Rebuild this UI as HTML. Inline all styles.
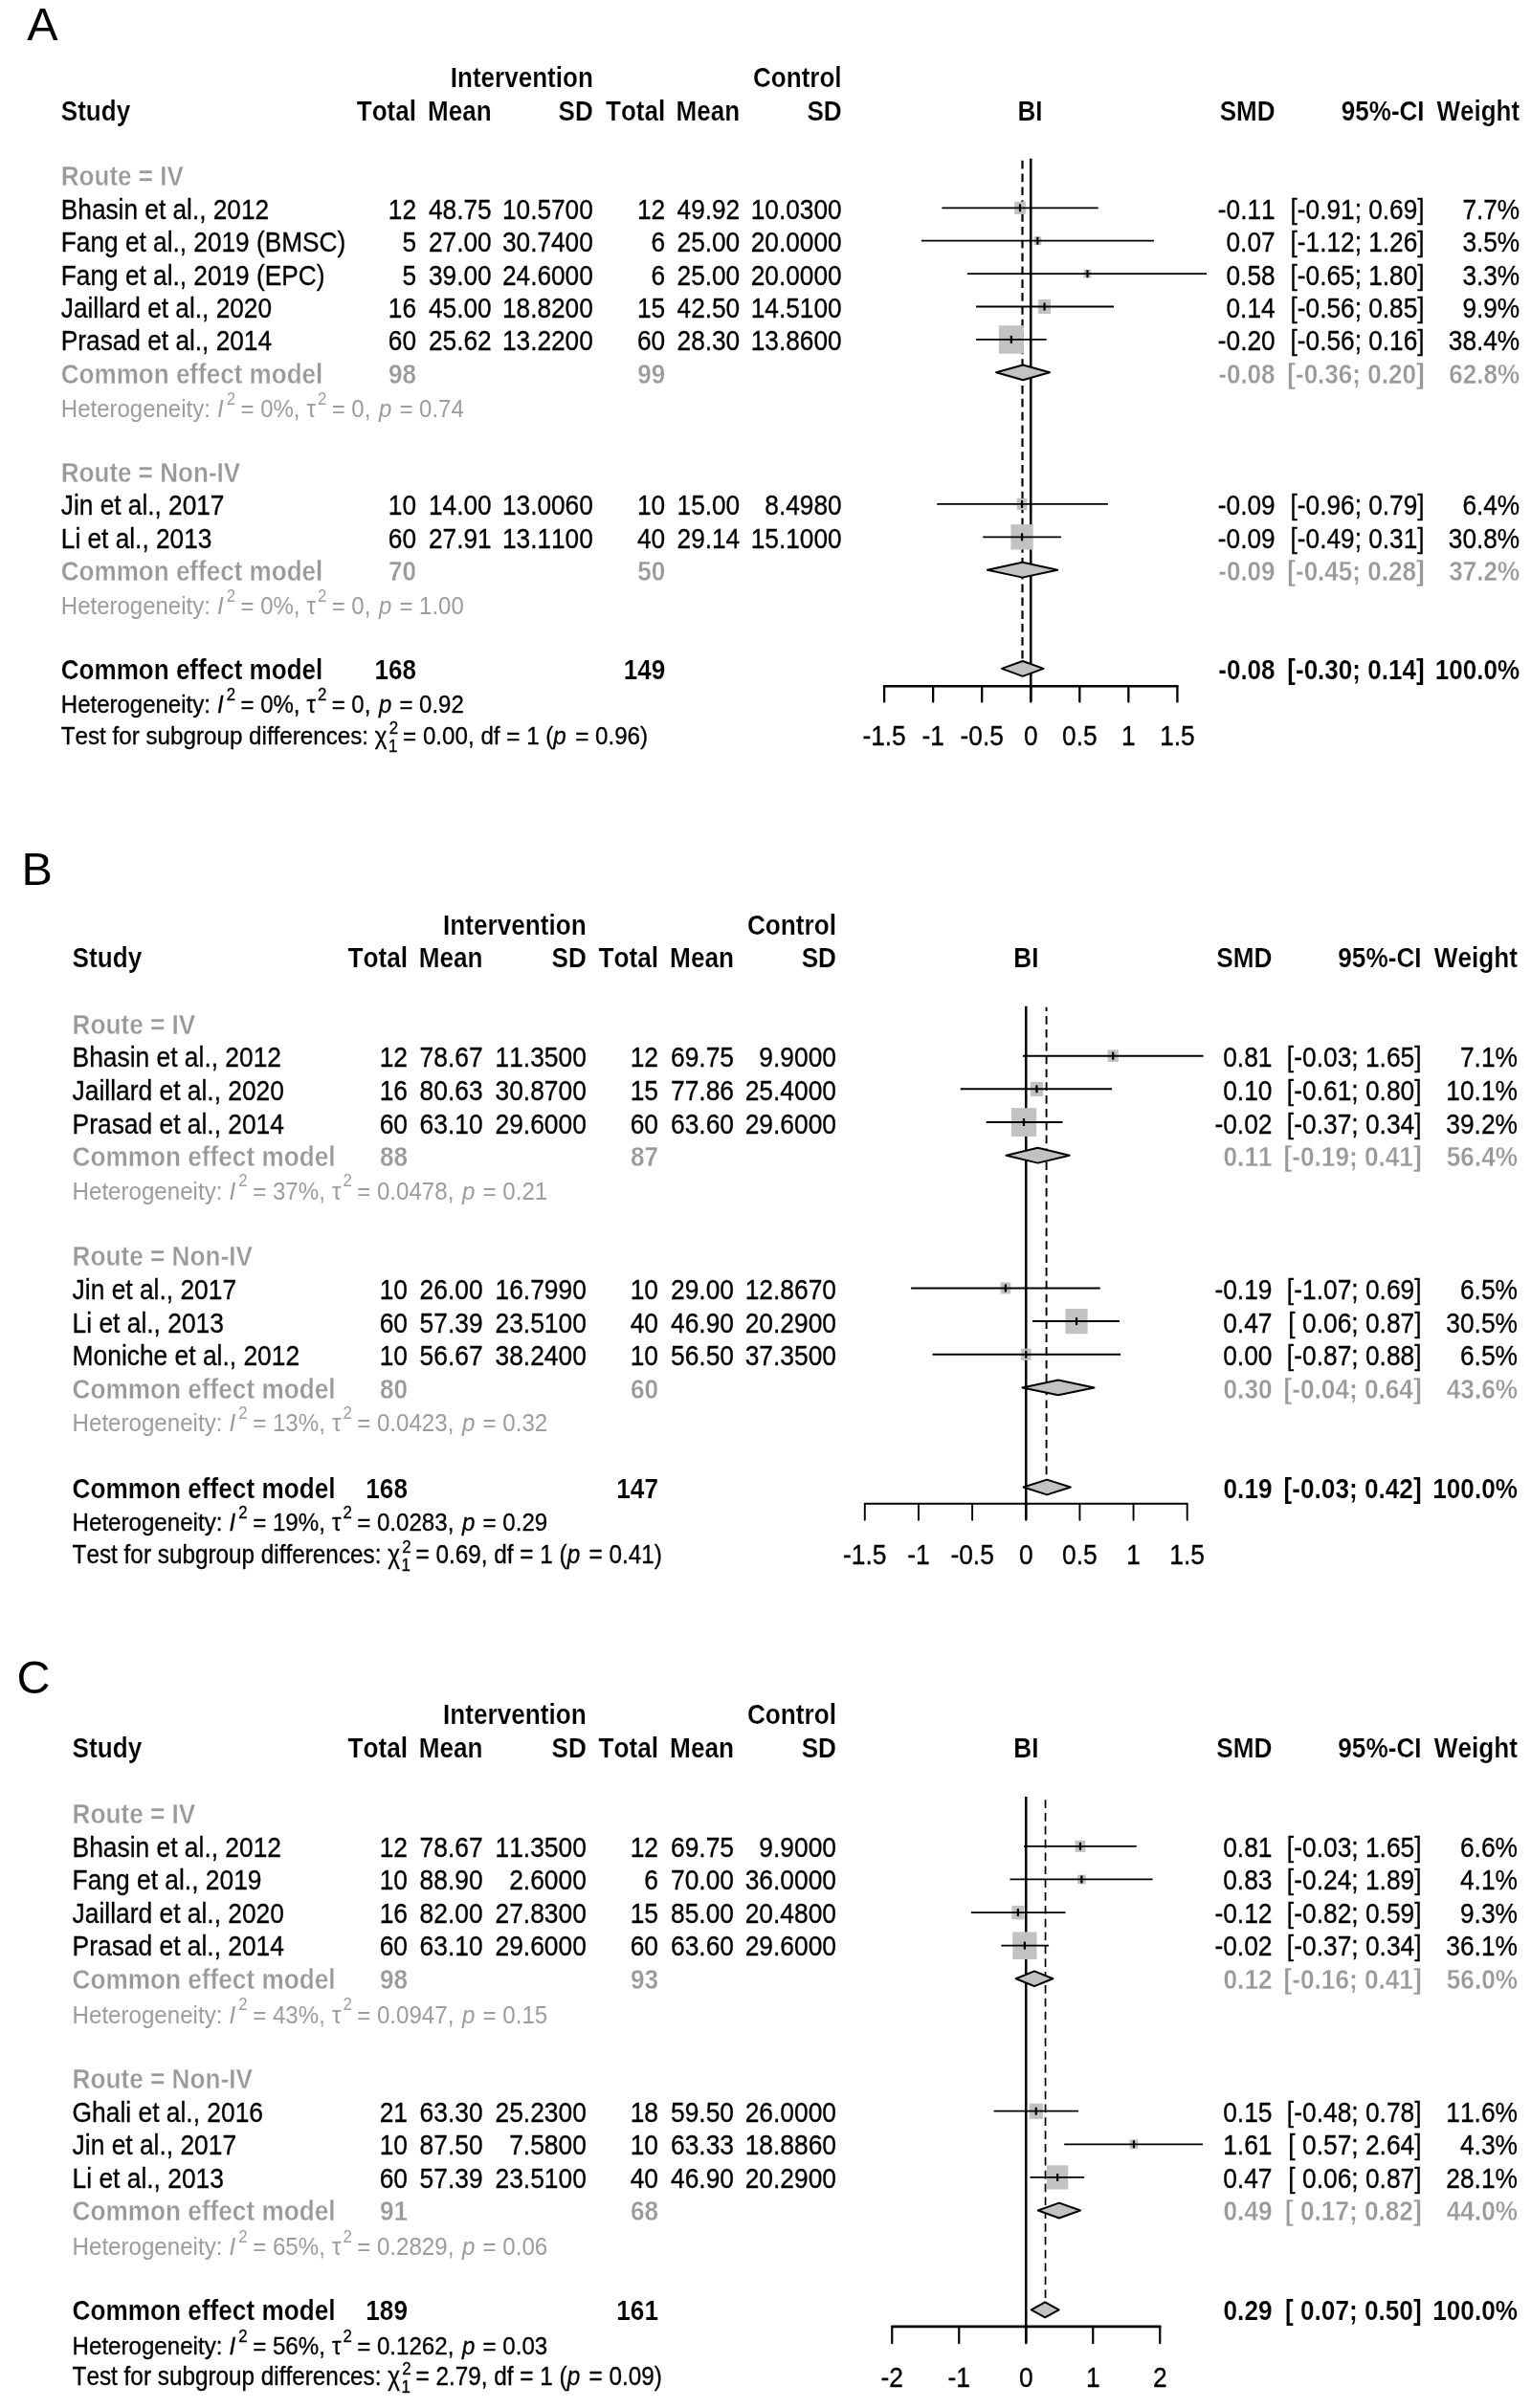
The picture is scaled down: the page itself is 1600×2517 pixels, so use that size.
<!DOCTYPE html>
<html><head><meta charset="utf-8"><title>Forest plots</title>
<style>
html,body{margin:0;padding:0;background:#fff;}
svg{display:block;font-family:"Liberation Sans", sans-serif;font-kerning:none;font-variant-ligatures:none;font-feature-settings:'kern' 0,'liga' 0;will-change:transform;}
text{white-space:pre;}
</style></head><body>
<svg width="1600" height="2517" viewBox="0 0 1600 2517">
<rect width="1600" height="2517" fill="#fff"/>
<text transform="matrix(1 0 0 1.0 28.30 42.00)" text-anchor="start" fill="#000" style="font-size:48.5px;">A</text>
<text transform="matrix(1 0 0 1.1 619.80 91.22)" text-anchor="end" fill="#000" stroke="#fff" stroke-width="0.15" style="font-size:26.05px;font-weight:bold;">Intervention</text>
<text transform="matrix(1 0 0 1.1 879.60 91.22)" text-anchor="end" fill="#000" stroke="#fff" stroke-width="0.15" style="font-size:26.05px;font-weight:bold;">Control</text>
<text transform="matrix(1 0 0 1.1 63.80 125.62)" text-anchor="start" fill="#000" stroke="#fff" stroke-width="0.15" style="font-size:26.05px;font-weight:bold;">Study</text>
<text transform="matrix(1 0 0 1.1 435.00 125.62)" text-anchor="end" fill="#000" stroke="#fff" stroke-width="0.15" style="font-size:26.05px;font-weight:bold;">Total</text>
<text transform="matrix(1 0 0 1.1 695.20 125.62)" text-anchor="end" fill="#000" stroke="#fff" stroke-width="0.15" style="font-size:26.05px;font-weight:bold;">Total</text>
<text transform="matrix(1 0 0 1.1 513.60 125.62)" text-anchor="end" fill="#000" stroke="#fff" stroke-width="0.15" style="font-size:26.05px;font-weight:bold;">Mean</text>
<text transform="matrix(1 0 0 1.1 773.20 125.62)" text-anchor="end" fill="#000" stroke="#fff" stroke-width="0.15" style="font-size:26.05px;font-weight:bold;">Mean</text>
<text transform="matrix(1 0 0 1.1 619.80 125.62)" text-anchor="end" fill="#000" stroke="#fff" stroke-width="0.15" style="font-size:26.05px;font-weight:bold;">SD</text>
<text transform="matrix(1 0 0 1.1 879.60 125.62)" text-anchor="end" fill="#000" stroke="#fff" stroke-width="0.15" style="font-size:26.05px;font-weight:bold;">SD</text>
<text transform="matrix(1 0 0 1.1 1076.40 125.62)" text-anchor="middle" fill="#000" stroke="#fff" stroke-width="0.15" style="font-size:26.05px;font-weight:bold;">BI</text>
<text transform="matrix(1 0 0 1.1 1332.60 125.62)" text-anchor="end" fill="#000" stroke="#fff" stroke-width="0.15" style="font-size:26.05px;font-weight:bold;">SMD</text>
<text transform="matrix(1 0 0 1.1 1488.60 125.62)" text-anchor="end" fill="#000" stroke="#fff" stroke-width="0.15" style="font-size:26.05px;font-weight:bold;">95%-CI</text>
<text transform="matrix(1 0 0 1.1 1588.20 125.62)" text-anchor="end" fill="#000" stroke="#fff" stroke-width="0.15" style="font-size:26.05px;font-weight:bold;">Weight</text>
<text transform="matrix(1 0 0 1.1 924.10 778.90)" text-anchor="middle" fill="#000" stroke="#000" stroke-width="0.3" style="font-size:26.25px;">-1.5</text>
<text transform="matrix(1 0 0 1.1 975.15 778.90)" text-anchor="middle" fill="#000" stroke="#000" stroke-width="0.3" style="font-size:26.25px;">-1</text>
<text transform="matrix(1 0 0 1.1 1026.20 778.90)" text-anchor="middle" fill="#000" stroke="#000" stroke-width="0.3" style="font-size:26.25px;">-0.5</text>
<text transform="matrix(1 0 0 1.1 1077.25 778.90)" text-anchor="middle" fill="#000" stroke="#000" stroke-width="0.3" style="font-size:26.25px;">0</text>
<text transform="matrix(1 0 0 1.1 1128.30 778.90)" text-anchor="middle" fill="#000" stroke="#000" stroke-width="0.3" style="font-size:26.25px;">0.5</text>
<text transform="matrix(1 0 0 1.1 1179.35 778.90)" text-anchor="middle" fill="#000" stroke="#000" stroke-width="0.3" style="font-size:26.25px;">1</text>
<text transform="matrix(1 0 0 1.1 1230.40 778.90)" text-anchor="middle" fill="#000" stroke="#000" stroke-width="0.3" style="font-size:26.25px;">1.5</text>
<line x1="1068.50" y1="166.72" x2="1068.50" y2="698.92" stroke="#000" stroke-width="2.2" stroke-dasharray="8.7 5.14" stroke-dashoffset="12.84"/>
<line x1="1077.25" y1="165.72" x2="1077.25" y2="733.60" stroke="#000" stroke-width="2.55"/>
<rect x="1060.19" y="210.73" width="11.65" height="13.18" fill="#c2c2c2"/>
<rect x="1080.47" y="247.28" width="7.86" height="8.89" fill="#c2c2c2"/>
<rect x="1132.65" y="281.81" width="7.63" height="8.63" fill="#c2c2c2"/>
<rect x="1084.94" y="313.05" width="13.21" height="14.95" fill="#c2c2c2"/>
<rect x="1043.82" y="340.20" width="26.03" height="29.43" fill="#c2c2c2"/>
<rect x="1062.75" y="520.91" width="10.63" height="12.02" fill="#c2c2c2"/>
<rect x="1056.41" y="548.14" width="23.31" height="26.36" fill="#c2c2c2"/>
<line x1="984.34" y1="217.32" x2="1147.70" y2="217.32" stroke="#000" stroke-width="1.8"/>
<line x1="1066.02" y1="213.32" x2="1066.02" y2="221.32" stroke="#000" stroke-width="2.2"/>
<line x1="962.90" y1="251.72" x2="1205.90" y2="251.72" stroke="#000" stroke-width="1.8"/>
<line x1="1084.40" y1="247.72" x2="1084.40" y2="255.72" stroke="#000" stroke-width="2.2"/>
<line x1="1010.88" y1="286.12" x2="1261.03" y2="286.12" stroke="#000" stroke-width="1.8"/>
<line x1="1136.47" y1="282.12" x2="1136.47" y2="290.12" stroke="#000" stroke-width="2.2"/>
<line x1="1020.07" y1="320.52" x2="1164.04" y2="320.52" stroke="#000" stroke-width="1.8"/>
<line x1="1091.54" y1="316.52" x2="1091.54" y2="324.52" stroke="#000" stroke-width="2.2"/>
<line x1="1020.07" y1="354.92" x2="1093.59" y2="354.92" stroke="#000" stroke-width="1.8"/>
<line x1="1056.83" y1="350.92" x2="1056.83" y2="358.92" stroke="#000" stroke-width="2.2"/>
<polygon points="1041.09,389.32 1069.08,381.42 1097.07,389.32 1069.08,397.22" fill="#c2c2c2" stroke="#000" stroke-width="2.0" stroke-linejoin="round"/>
<line x1="979.23" y1="526.92" x2="1157.91" y2="526.92" stroke="#000" stroke-width="1.8"/>
<line x1="1068.06" y1="522.92" x2="1068.06" y2="530.92" stroke="#000" stroke-width="2.2"/>
<line x1="1027.22" y1="561.32" x2="1108.90" y2="561.32" stroke="#000" stroke-width="1.8"/>
<line x1="1068.06" y1="557.32" x2="1068.06" y2="565.32" stroke="#000" stroke-width="2.2"/>
<polygon points="1031.90,595.72 1068.57,587.82 1105.24,595.72 1068.57,603.62" fill="#c2c2c2" stroke="#000" stroke-width="2.0" stroke-linejoin="round"/>
<polygon points="1046.91,698.92 1068.78,691.02 1090.64,698.92 1068.78,706.82" fill="#c2c2c2" stroke="#000" stroke-width="2.0" stroke-linejoin="round"/>
<line x1="924.10" y1="717.30" x2="1230.40" y2="717.30" stroke="#000" stroke-width="2.5" stroke-linecap="round"/>
<line x1="924.10" y1="717.30" x2="924.10" y2="733.60" stroke="#000" stroke-width="2.3" stroke-linecap="round"/>
<line x1="975.15" y1="717.30" x2="975.15" y2="733.60" stroke="#000" stroke-width="2.3" stroke-linecap="round"/>
<line x1="1026.20" y1="717.30" x2="1026.20" y2="733.60" stroke="#000" stroke-width="2.3" stroke-linecap="round"/>
<line x1="1077.25" y1="717.30" x2="1077.25" y2="733.60" stroke="#000" stroke-width="2.3" stroke-linecap="round"/>
<line x1="1128.30" y1="717.30" x2="1128.30" y2="733.60" stroke="#000" stroke-width="2.3" stroke-linecap="round"/>
<line x1="1179.35" y1="717.30" x2="1179.35" y2="733.60" stroke="#000" stroke-width="2.3" stroke-linecap="round"/>
<line x1="1230.40" y1="717.30" x2="1230.40" y2="733.60" stroke="#000" stroke-width="2.3" stroke-linecap="round"/>
<text transform="matrix(1 0 0 1.1 63.80 194.42)" text-anchor="start" fill="#999999" stroke="#fff" stroke-width="0.32" style="font-size:26.05px;font-weight:bold;">Route = IV</text>
<text transform="matrix(1 0 0 1.1 63.80 228.82)" text-anchor="start" fill="#000" stroke="#000" stroke-width="0.3" style="font-size:26.25px;">Bhasin et al., 2012</text>
<text transform="matrix(1 0 0 1.1 435.00 228.82)" text-anchor="end" fill="#000" stroke="#000" stroke-width="0.3" style="font-size:26.25px;">12</text>
<text transform="matrix(1 0 0 1.1 513.60 228.82)" text-anchor="end" fill="#000" stroke="#000" stroke-width="0.3" style="font-size:26.25px;">48.75</text>
<text transform="matrix(1 0 0 1.1 619.80 228.82)" text-anchor="end" fill="#000" stroke="#000" stroke-width="0.3" style="font-size:26.25px;">10.5700</text>
<text transform="matrix(1 0 0 1.1 695.20 228.82)" text-anchor="end" fill="#000" stroke="#000" stroke-width="0.3" style="font-size:26.25px;">12</text>
<text transform="matrix(1 0 0 1.1 773.20 228.82)" text-anchor="end" fill="#000" stroke="#000" stroke-width="0.3" style="font-size:26.25px;">49.92</text>
<text transform="matrix(1 0 0 1.1 879.60 228.82)" text-anchor="end" fill="#000" stroke="#000" stroke-width="0.3" style="font-size:26.25px;">10.0300</text>
<text transform="matrix(1 0 0 1.1 1332.60 228.82)" text-anchor="end" fill="#000" stroke="#000" stroke-width="0.3" style="font-size:26.25px;">-0.11</text>
<text transform="matrix(1 0 0 1.1 1488.60 228.82)" text-anchor="end" fill="#000" stroke="#000" stroke-width="0.3" style="font-size:26.25px;">[-0.91; 0.69]</text>
<text transform="matrix(1 0 0 1.1 1588.20 228.82)" text-anchor="end" fill="#000" stroke="#000" stroke-width="0.3" style="font-size:26.25px;">7.7%</text>
<text transform="matrix(1 0 0 1.1 63.80 263.22)" text-anchor="start" fill="#000" stroke="#000" stroke-width="0.3" style="font-size:26.25px;">Fang et al., 2019 (BMSC)</text>
<text transform="matrix(1 0 0 1.1 435.00 263.22)" text-anchor="end" fill="#000" stroke="#000" stroke-width="0.3" style="font-size:26.25px;">5</text>
<text transform="matrix(1 0 0 1.1 513.60 263.22)" text-anchor="end" fill="#000" stroke="#000" stroke-width="0.3" style="font-size:26.25px;">27.00</text>
<text transform="matrix(1 0 0 1.1 619.80 263.22)" text-anchor="end" fill="#000" stroke="#000" stroke-width="0.3" style="font-size:26.25px;">30.7400</text>
<text transform="matrix(1 0 0 1.1 695.20 263.22)" text-anchor="end" fill="#000" stroke="#000" stroke-width="0.3" style="font-size:26.25px;">6</text>
<text transform="matrix(1 0 0 1.1 773.20 263.22)" text-anchor="end" fill="#000" stroke="#000" stroke-width="0.3" style="font-size:26.25px;">25.00</text>
<text transform="matrix(1 0 0 1.1 879.60 263.22)" text-anchor="end" fill="#000" stroke="#000" stroke-width="0.3" style="font-size:26.25px;">20.0000</text>
<text transform="matrix(1 0 0 1.1 1332.60 263.22)" text-anchor="end" fill="#000" stroke="#000" stroke-width="0.3" style="font-size:26.25px;">0.07</text>
<text transform="matrix(1 0 0 1.1 1488.60 263.22)" text-anchor="end" fill="#000" stroke="#000" stroke-width="0.3" style="font-size:26.25px;">[-1.12; 1.26]</text>
<text transform="matrix(1 0 0 1.1 1588.20 263.22)" text-anchor="end" fill="#000" stroke="#000" stroke-width="0.3" style="font-size:26.25px;">3.5%</text>
<text transform="matrix(1 0 0 1.1 63.80 297.62)" text-anchor="start" fill="#000" stroke="#000" stroke-width="0.3" style="font-size:26.25px;">Fang et al., 2019 (EPC)</text>
<text transform="matrix(1 0 0 1.1 435.00 297.62)" text-anchor="end" fill="#000" stroke="#000" stroke-width="0.3" style="font-size:26.25px;">5</text>
<text transform="matrix(1 0 0 1.1 513.60 297.62)" text-anchor="end" fill="#000" stroke="#000" stroke-width="0.3" style="font-size:26.25px;">39.00</text>
<text transform="matrix(1 0 0 1.1 619.80 297.62)" text-anchor="end" fill="#000" stroke="#000" stroke-width="0.3" style="font-size:26.25px;">24.6000</text>
<text transform="matrix(1 0 0 1.1 695.20 297.62)" text-anchor="end" fill="#000" stroke="#000" stroke-width="0.3" style="font-size:26.25px;">6</text>
<text transform="matrix(1 0 0 1.1 773.20 297.62)" text-anchor="end" fill="#000" stroke="#000" stroke-width="0.3" style="font-size:26.25px;">25.00</text>
<text transform="matrix(1 0 0 1.1 879.60 297.62)" text-anchor="end" fill="#000" stroke="#000" stroke-width="0.3" style="font-size:26.25px;">20.0000</text>
<text transform="matrix(1 0 0 1.1 1332.60 297.62)" text-anchor="end" fill="#000" stroke="#000" stroke-width="0.3" style="font-size:26.25px;">0.58</text>
<text transform="matrix(1 0 0 1.1 1488.60 297.62)" text-anchor="end" fill="#000" stroke="#000" stroke-width="0.3" style="font-size:26.25px;">[-0.65; 1.80]</text>
<text transform="matrix(1 0 0 1.1 1588.20 297.62)" text-anchor="end" fill="#000" stroke="#000" stroke-width="0.3" style="font-size:26.25px;">3.3%</text>
<text transform="matrix(1 0 0 1.1 63.80 332.02)" text-anchor="start" fill="#000" stroke="#000" stroke-width="0.3" style="font-size:26.25px;">Jaillard et al., 2020</text>
<text transform="matrix(1 0 0 1.1 435.00 332.02)" text-anchor="end" fill="#000" stroke="#000" stroke-width="0.3" style="font-size:26.25px;">16</text>
<text transform="matrix(1 0 0 1.1 513.60 332.02)" text-anchor="end" fill="#000" stroke="#000" stroke-width="0.3" style="font-size:26.25px;">45.00</text>
<text transform="matrix(1 0 0 1.1 619.80 332.02)" text-anchor="end" fill="#000" stroke="#000" stroke-width="0.3" style="font-size:26.25px;">18.8200</text>
<text transform="matrix(1 0 0 1.1 695.20 332.02)" text-anchor="end" fill="#000" stroke="#000" stroke-width="0.3" style="font-size:26.25px;">15</text>
<text transform="matrix(1 0 0 1.1 773.20 332.02)" text-anchor="end" fill="#000" stroke="#000" stroke-width="0.3" style="font-size:26.25px;">42.50</text>
<text transform="matrix(1 0 0 1.1 879.60 332.02)" text-anchor="end" fill="#000" stroke="#000" stroke-width="0.3" style="font-size:26.25px;">14.5100</text>
<text transform="matrix(1 0 0 1.1 1332.60 332.02)" text-anchor="end" fill="#000" stroke="#000" stroke-width="0.3" style="font-size:26.25px;">0.14</text>
<text transform="matrix(1 0 0 1.1 1488.60 332.02)" text-anchor="end" fill="#000" stroke="#000" stroke-width="0.3" style="font-size:26.25px;">[-0.56; 0.85]</text>
<text transform="matrix(1 0 0 1.1 1588.20 332.02)" text-anchor="end" fill="#000" stroke="#000" stroke-width="0.3" style="font-size:26.25px;">9.9%</text>
<text transform="matrix(1 0 0 1.1 63.80 366.42)" text-anchor="start" fill="#000" stroke="#000" stroke-width="0.3" style="font-size:26.25px;">Prasad et al., 2014</text>
<text transform="matrix(1 0 0 1.1 435.00 366.42)" text-anchor="end" fill="#000" stroke="#000" stroke-width="0.3" style="font-size:26.25px;">60</text>
<text transform="matrix(1 0 0 1.1 513.60 366.42)" text-anchor="end" fill="#000" stroke="#000" stroke-width="0.3" style="font-size:26.25px;">25.62</text>
<text transform="matrix(1 0 0 1.1 619.80 366.42)" text-anchor="end" fill="#000" stroke="#000" stroke-width="0.3" style="font-size:26.25px;">13.2200</text>
<text transform="matrix(1 0 0 1.1 695.20 366.42)" text-anchor="end" fill="#000" stroke="#000" stroke-width="0.3" style="font-size:26.25px;">60</text>
<text transform="matrix(1 0 0 1.1 773.20 366.42)" text-anchor="end" fill="#000" stroke="#000" stroke-width="0.3" style="font-size:26.25px;">28.30</text>
<text transform="matrix(1 0 0 1.1 879.60 366.42)" text-anchor="end" fill="#000" stroke="#000" stroke-width="0.3" style="font-size:26.25px;">13.8600</text>
<text transform="matrix(1 0 0 1.1 1332.60 366.42)" text-anchor="end" fill="#000" stroke="#000" stroke-width="0.3" style="font-size:26.25px;">-0.20</text>
<text transform="matrix(1 0 0 1.1 1488.60 366.42)" text-anchor="end" fill="#000" stroke="#000" stroke-width="0.3" style="font-size:26.25px;">[-0.56; 0.16]</text>
<text transform="matrix(1 0 0 1.1 1588.20 366.42)" text-anchor="end" fill="#000" stroke="#000" stroke-width="0.3" style="font-size:26.25px;">38.4%</text>
<text transform="matrix(1 0 0 1.1 63.80 400.82)" text-anchor="start" fill="#999999" stroke="#fff" stroke-width="0.32" style="font-size:26.05px;font-weight:bold;">Common effect model</text>
<text transform="matrix(1 0 0 1.1 435.00 400.82)" text-anchor="end" fill="#999999" stroke="#fff" stroke-width="0.32" style="font-size:26.05px;font-weight:bold;">98</text>
<text transform="matrix(1 0 0 1.1 695.20 400.82)" text-anchor="end" fill="#999999" stroke="#fff" stroke-width="0.32" style="font-size:26.05px;font-weight:bold;">99</text>
<text transform="matrix(1 0 0 1.1 1332.60 400.82)" text-anchor="end" fill="#999999" stroke="#fff" stroke-width="0.32" style="font-size:26.05px;font-weight:bold;">-0.08</text>
<text transform="matrix(1 0 0 1.1 1488.60 400.82)" text-anchor="end" fill="#999999" stroke="#fff" stroke-width="0.32" style="font-size:26.05px;font-weight:bold;">[-0.36; 0.20]</text>
<text transform="matrix(1 0 0 1.1 1588.20 400.82)" text-anchor="end" fill="#999999" stroke="#fff" stroke-width="0.32" style="font-size:26.05px;font-weight:bold;">62.8%</text>
<text transform="matrix(1 0 0 1.1 63.80 435.77)" text-anchor="start" fill="#9c9c9c" style="font-size:24.0px;">Heterogeneity: <tspan dx="0.5" style="font-style:italic">I</tspan><tspan dx="3.0" dy="-12.00" style="font-size:16.80px">2</tspan><tspan dx="-1.2" dy="12.00"> = 0%, </tspan><tspan dx="0.4">τ</tspan><tspan dx="2.0" dy="-12.00" style="font-size:16.80px">2</tspan><tspan dx="-1.4" dy="12.00"> = 0, </tspan><tspan dx="1.9" style="font-style:italic">p</tspan><tspan dx="1.5"> = 0.74</tspan></text>
<text transform="matrix(1 0 0 1.1 63.80 504.02)" text-anchor="start" fill="#999999" stroke="#fff" stroke-width="0.32" style="font-size:26.05px;font-weight:bold;">Route = Non-IV</text>
<text transform="matrix(1 0 0 1.1 63.80 538.42)" text-anchor="start" fill="#000" stroke="#000" stroke-width="0.3" style="font-size:26.25px;">Jin et al., 2017</text>
<text transform="matrix(1 0 0 1.1 435.00 538.42)" text-anchor="end" fill="#000" stroke="#000" stroke-width="0.3" style="font-size:26.25px;">10</text>
<text transform="matrix(1 0 0 1.1 513.60 538.42)" text-anchor="end" fill="#000" stroke="#000" stroke-width="0.3" style="font-size:26.25px;">14.00</text>
<text transform="matrix(1 0 0 1.1 619.80 538.42)" text-anchor="end" fill="#000" stroke="#000" stroke-width="0.3" style="font-size:26.25px;">13.0060</text>
<text transform="matrix(1 0 0 1.1 695.20 538.42)" text-anchor="end" fill="#000" stroke="#000" stroke-width="0.3" style="font-size:26.25px;">10</text>
<text transform="matrix(1 0 0 1.1 773.20 538.42)" text-anchor="end" fill="#000" stroke="#000" stroke-width="0.3" style="font-size:26.25px;">15.00</text>
<text transform="matrix(1 0 0 1.1 879.60 538.42)" text-anchor="end" fill="#000" stroke="#000" stroke-width="0.3" style="font-size:26.25px;">8.4980</text>
<text transform="matrix(1 0 0 1.1 1332.60 538.42)" text-anchor="end" fill="#000" stroke="#000" stroke-width="0.3" style="font-size:26.25px;">-0.09</text>
<text transform="matrix(1 0 0 1.1 1488.60 538.42)" text-anchor="end" fill="#000" stroke="#000" stroke-width="0.3" style="font-size:26.25px;">[-0.96; 0.79]</text>
<text transform="matrix(1 0 0 1.1 1588.20 538.42)" text-anchor="end" fill="#000" stroke="#000" stroke-width="0.3" style="font-size:26.25px;">6.4%</text>
<text transform="matrix(1 0 0 1.1 63.80 572.82)" text-anchor="start" fill="#000" stroke="#000" stroke-width="0.3" style="font-size:26.25px;">Li et al., 2013</text>
<text transform="matrix(1 0 0 1.1 435.00 572.82)" text-anchor="end" fill="#000" stroke="#000" stroke-width="0.3" style="font-size:26.25px;">60</text>
<text transform="matrix(1 0 0 1.1 513.60 572.82)" text-anchor="end" fill="#000" stroke="#000" stroke-width="0.3" style="font-size:26.25px;">27.91</text>
<text transform="matrix(1 0 0 1.1 619.80 572.82)" text-anchor="end" fill="#000" stroke="#000" stroke-width="0.3" style="font-size:26.25px;">13.1100</text>
<text transform="matrix(1 0 0 1.1 695.20 572.82)" text-anchor="end" fill="#000" stroke="#000" stroke-width="0.3" style="font-size:26.25px;">40</text>
<text transform="matrix(1 0 0 1.1 773.20 572.82)" text-anchor="end" fill="#000" stroke="#000" stroke-width="0.3" style="font-size:26.25px;">29.14</text>
<text transform="matrix(1 0 0 1.1 879.60 572.82)" text-anchor="end" fill="#000" stroke="#000" stroke-width="0.3" style="font-size:26.25px;">15.1000</text>
<text transform="matrix(1 0 0 1.1 1332.60 572.82)" text-anchor="end" fill="#000" stroke="#000" stroke-width="0.3" style="font-size:26.25px;">-0.09</text>
<text transform="matrix(1 0 0 1.1 1488.60 572.82)" text-anchor="end" fill="#000" stroke="#000" stroke-width="0.3" style="font-size:26.25px;">[-0.49; 0.31]</text>
<text transform="matrix(1 0 0 1.1 1588.20 572.82)" text-anchor="end" fill="#000" stroke="#000" stroke-width="0.3" style="font-size:26.25px;">30.8%</text>
<text transform="matrix(1 0 0 1.1 63.80 607.22)" text-anchor="start" fill="#999999" stroke="#fff" stroke-width="0.32" style="font-size:26.05px;font-weight:bold;">Common effect model</text>
<text transform="matrix(1 0 0 1.1 435.00 607.22)" text-anchor="end" fill="#999999" stroke="#fff" stroke-width="0.32" style="font-size:26.05px;font-weight:bold;">70</text>
<text transform="matrix(1 0 0 1.1 695.20 607.22)" text-anchor="end" fill="#999999" stroke="#fff" stroke-width="0.32" style="font-size:26.05px;font-weight:bold;">50</text>
<text transform="matrix(1 0 0 1.1 1332.60 607.22)" text-anchor="end" fill="#999999" stroke="#fff" stroke-width="0.32" style="font-size:26.05px;font-weight:bold;">-0.09</text>
<text transform="matrix(1 0 0 1.1 1488.60 607.22)" text-anchor="end" fill="#999999" stroke="#fff" stroke-width="0.32" style="font-size:26.05px;font-weight:bold;">[-0.45; 0.28]</text>
<text transform="matrix(1 0 0 1.1 1588.20 607.22)" text-anchor="end" fill="#999999" stroke="#fff" stroke-width="0.32" style="font-size:26.05px;font-weight:bold;">37.2%</text>
<text transform="matrix(1 0 0 1.1 63.80 642.17)" text-anchor="start" fill="#9c9c9c" style="font-size:24.0px;">Heterogeneity: <tspan dx="0.5" style="font-style:italic">I</tspan><tspan dx="3.0" dy="-12.00" style="font-size:16.80px">2</tspan><tspan dx="-1.2" dy="12.00"> = 0%, </tspan><tspan dx="0.4">τ</tspan><tspan dx="2.0" dy="-12.00" style="font-size:16.80px">2</tspan><tspan dx="-1.4" dy="12.00"> = 0, </tspan><tspan dx="1.9" style="font-style:italic">p</tspan><tspan dx="1.5"> = 1.00</tspan></text>
<text transform="matrix(1 0 0 1.1 63.80 710.42)" text-anchor="start" fill="#000" stroke="#fff" stroke-width="0.15" style="font-size:26.05px;font-weight:bold;">Common effect model</text>
<text transform="matrix(1 0 0 1.1 435.00 710.42)" text-anchor="end" fill="#000" stroke="#fff" stroke-width="0.15" style="font-size:26.05px;font-weight:bold;">168</text>
<text transform="matrix(1 0 0 1.1 695.20 710.42)" text-anchor="end" fill="#000" stroke="#fff" stroke-width="0.15" style="font-size:26.05px;font-weight:bold;">149</text>
<text transform="matrix(1 0 0 1.1 1332.60 710.42)" text-anchor="end" fill="#000" stroke="#fff" stroke-width="0.15" style="font-size:26.05px;font-weight:bold;">-0.08</text>
<text transform="matrix(1 0 0 1.1 1488.60 710.42)" text-anchor="end" fill="#000" stroke="#fff" stroke-width="0.15" style="font-size:26.05px;font-weight:bold;">[-0.30; 0.14]</text>
<text transform="matrix(1 0 0 1.1 1588.20 710.42)" text-anchor="end" fill="#000" stroke="#fff" stroke-width="0.15" style="font-size:26.05px;font-weight:bold;">100.0%</text>
<text transform="matrix(1 0 0 1.1 63.80 745.37)" text-anchor="start" fill="#000" stroke="#000" stroke-width="0.3" style="font-size:24.0px;">Heterogeneity: <tspan dx="0.5" style="font-style:italic">I</tspan><tspan dx="3.0" dy="-12.00" style="font-size:16.80px">2</tspan><tspan dx="-1.2" dy="12.00"> = 0%, </tspan><tspan dx="0.4">τ</tspan><tspan dx="2.0" dy="-12.00" style="font-size:16.80px">2</tspan><tspan dx="-1.4" dy="12.00"> = 0, </tspan><tspan dx="1.9" style="font-style:italic">p</tspan><tspan dx="1.5"> = 0.92</tspan></text>
<text transform="matrix(1 0 0 1.1 63.80 777.52)" text-anchor="start" fill="#000" stroke="#000" stroke-width="0.3" style="font-size:24.2px;">Test for subgroup differences: <tspan dx="0">χ</tspan><tspan dx="2.2" dy="-9.68" style="font-size:16.94px">2</tspan><tspan dx="-10.22" dy="16.94" style="font-size:16.94px">1</tspan><tspan dx="-1.0" dy="-7.26"> = 0.00, df = 1 (</tspan><tspan style="font-style:italic">p</tspan><tspan dx="2.6"> = 0.96)</tspan></text>
<text transform="matrix(1 0 0 1.0 22.40 925.00)" text-anchor="start" fill="#000" style="font-size:48.5px;">B</text>
<text transform="matrix(1 0 0 1.1 612.80 976.66)" text-anchor="end" fill="#000" stroke="#fff" stroke-width="0.15" style="font-size:26.18px;font-weight:bold;">Intervention</text>
<text transform="matrix(1 0 0 1.1 874.00 976.66)" text-anchor="end" fill="#000" stroke="#fff" stroke-width="0.15" style="font-size:26.18px;font-weight:bold;">Control</text>
<text transform="matrix(1 0 0 1.1 75.60 1011.34)" text-anchor="start" fill="#000" stroke="#fff" stroke-width="0.15" style="font-size:26.18px;font-weight:bold;">Study</text>
<text transform="matrix(1 0 0 1.1 426.00 1011.34)" text-anchor="end" fill="#000" stroke="#fff" stroke-width="0.15" style="font-size:26.18px;font-weight:bold;">Total</text>
<text transform="matrix(1 0 0 1.1 688.00 1011.34)" text-anchor="end" fill="#000" stroke="#fff" stroke-width="0.15" style="font-size:26.18px;font-weight:bold;">Total</text>
<text transform="matrix(1 0 0 1.1 504.60 1011.34)" text-anchor="end" fill="#000" stroke="#fff" stroke-width="0.15" style="font-size:26.18px;font-weight:bold;">Mean</text>
<text transform="matrix(1 0 0 1.1 767.00 1011.34)" text-anchor="end" fill="#000" stroke="#fff" stroke-width="0.15" style="font-size:26.18px;font-weight:bold;">Mean</text>
<text transform="matrix(1 0 0 1.1 612.80 1011.34)" text-anchor="end" fill="#000" stroke="#fff" stroke-width="0.15" style="font-size:26.18px;font-weight:bold;">SD</text>
<text transform="matrix(1 0 0 1.1 874.00 1011.34)" text-anchor="end" fill="#000" stroke="#fff" stroke-width="0.15" style="font-size:26.18px;font-weight:bold;">SD</text>
<text transform="matrix(1 0 0 1.1 1072.40 1011.34)" text-anchor="middle" fill="#000" stroke="#fff" stroke-width="0.15" style="font-size:26.18px;font-weight:bold;">BI</text>
<text transform="matrix(1 0 0 1.1 1329.50 1011.34)" text-anchor="end" fill="#000" stroke="#fff" stroke-width="0.15" style="font-size:26.18px;font-weight:bold;">SMD</text>
<text transform="matrix(1 0 0 1.1 1485.60 1011.34)" text-anchor="end" fill="#000" stroke="#fff" stroke-width="0.15" style="font-size:26.18px;font-weight:bold;">95%-CI</text>
<text transform="matrix(1 0 0 1.1 1586.00 1011.34)" text-anchor="end" fill="#000" stroke="#fff" stroke-width="0.15" style="font-size:26.18px;font-weight:bold;">Weight</text>
<text transform="matrix(1 0 0 1.1 903.80 1634.60)" text-anchor="middle" fill="#000" stroke="#000" stroke-width="0.3" style="font-size:26.381px;">-1.5</text>
<text transform="matrix(1 0 0 1.1 959.95 1634.60)" text-anchor="middle" fill="#000" stroke="#000" stroke-width="0.3" style="font-size:26.381px;">-1</text>
<text transform="matrix(1 0 0 1.1 1016.10 1634.60)" text-anchor="middle" fill="#000" stroke="#000" stroke-width="0.3" style="font-size:26.381px;">-0.5</text>
<text transform="matrix(1 0 0 1.1 1072.25 1634.60)" text-anchor="middle" fill="#000" stroke="#000" stroke-width="0.3" style="font-size:26.381px;">0</text>
<text transform="matrix(1 0 0 1.1 1128.40 1634.60)" text-anchor="middle" fill="#000" stroke="#000" stroke-width="0.3" style="font-size:26.381px;">0.5</text>
<text transform="matrix(1 0 0 1.1 1184.55 1634.60)" text-anchor="middle" fill="#000" stroke="#000" stroke-width="0.3" style="font-size:26.381px;">1</text>
<text transform="matrix(1 0 0 1.1 1240.70 1634.60)" text-anchor="middle" fill="#000" stroke="#000" stroke-width="0.3" style="font-size:26.381px;">1.5</text>
<line x1="1093.59" y1="1052.66" x2="1093.59" y2="1554.49" stroke="#000" stroke-width="1.9" stroke-dasharray="8.7 5.14" stroke-dashoffset="4.44"/>
<line x1="1072.25" y1="1051.66" x2="1072.25" y2="1588.75" stroke="#000" stroke-width="2.55"/>
<rect x="1157.62" y="1097.35" width="11.19" height="12.66" fill="#c2c2c2"/>
<rect x="1076.81" y="1130.80" width="13.35" height="15.10" fill="#c2c2c2"/>
<rect x="1056.86" y="1158.16" width="26.30" height="29.74" fill="#c2c2c2"/>
<rect x="1045.56" y="1340.36" width="10.71" height="12.11" fill="#c2c2c2"/>
<rect x="1113.43" y="1367.98" width="23.20" height="26.23" fill="#c2c2c2"/>
<rect x="1066.90" y="1409.72" width="10.71" height="12.11" fill="#c2c2c2"/>
<line x1="1068.88" y1="1103.67" x2="1257.55" y2="1103.67" stroke="#000" stroke-width="2.0"/>
<line x1="1163.21" y1="1099.67" x2="1163.21" y2="1107.67" stroke="#000" stroke-width="2.2"/>
<line x1="1003.75" y1="1138.35" x2="1162.09" y2="1138.35" stroke="#000" stroke-width="2.0"/>
<line x1="1083.48" y1="1134.35" x2="1083.48" y2="1142.35" stroke="#000" stroke-width="2.2"/>
<line x1="1030.70" y1="1173.03" x2="1110.43" y2="1173.03" stroke="#000" stroke-width="2.0"/>
<line x1="1070.00" y1="1169.03" x2="1070.00" y2="1177.03" stroke="#000" stroke-width="2.2"/>
<polygon points="1051.51,1207.71 1084.60,1199.81 1117.69,1207.71 1084.60,1215.61" fill="#c2c2c2" stroke="#000" stroke-width="2.0" stroke-linejoin="round"/>
<line x1="952.09" y1="1346.42" x2="1149.74" y2="1346.42" stroke="#000" stroke-width="2.0"/>
<line x1="1050.91" y1="1342.42" x2="1050.91" y2="1350.42" stroke="#000" stroke-width="2.2"/>
<line x1="1078.99" y1="1381.10" x2="1169.95" y2="1381.10" stroke="#000" stroke-width="2.0"/>
<line x1="1125.03" y1="1377.10" x2="1125.03" y2="1385.10" stroke="#000" stroke-width="2.2"/>
<line x1="974.55" y1="1415.78" x2="1171.07" y2="1415.78" stroke="#000" stroke-width="2.0"/>
<line x1="1072.25" y1="1411.78" x2="1072.25" y2="1419.78" stroke="#000" stroke-width="2.2"/>
<polygon points="1068.36,1450.45 1105.94,1442.55 1143.52,1450.45 1105.94,1458.35" fill="#c2c2c2" stroke="#000" stroke-width="2.0" stroke-linejoin="round"/>
<polygon points="1069.48,1554.49 1094.15,1546.59 1118.82,1554.49 1094.15,1562.39" fill="#c2c2c2" stroke="#000" stroke-width="2.0" stroke-linejoin="round"/>
<line x1="903.80" y1="1571.85" x2="1240.70" y2="1571.85" stroke="#000" stroke-width="2.0" stroke-linecap="round"/>
<line x1="903.80" y1="1571.85" x2="903.80" y2="1588.75" stroke="#000" stroke-width="1.9" stroke-linecap="round"/>
<line x1="959.95" y1="1571.85" x2="959.95" y2="1588.75" stroke="#000" stroke-width="1.9" stroke-linecap="round"/>
<line x1="1016.10" y1="1571.85" x2="1016.10" y2="1588.75" stroke="#000" stroke-width="1.9" stroke-linecap="round"/>
<line x1="1072.25" y1="1571.85" x2="1072.25" y2="1588.75" stroke="#000" stroke-width="1.9" stroke-linecap="round"/>
<line x1="1128.40" y1="1571.85" x2="1128.40" y2="1588.75" stroke="#000" stroke-width="1.9" stroke-linecap="round"/>
<line x1="1184.55" y1="1571.85" x2="1184.55" y2="1588.75" stroke="#000" stroke-width="1.9" stroke-linecap="round"/>
<line x1="1240.70" y1="1571.85" x2="1240.70" y2="1588.75" stroke="#000" stroke-width="1.9" stroke-linecap="round"/>
<text transform="matrix(1 0 0 1.1 75.60 1080.70)" text-anchor="start" fill="#999999" stroke="#fff" stroke-width="0.32" style="font-size:26.18px;font-weight:bold;">Route = IV</text>
<text transform="matrix(1 0 0 1.1 75.60 1115.37)" text-anchor="start" fill="#000" stroke="#000" stroke-width="0.3" style="font-size:26.381px;">Bhasin et al., 2012</text>
<text transform="matrix(1 0 0 1.1 426.00 1115.37)" text-anchor="end" fill="#000" stroke="#000" stroke-width="0.3" style="font-size:26.381px;">12</text>
<text transform="matrix(1 0 0 1.1 504.60 1115.37)" text-anchor="end" fill="#000" stroke="#000" stroke-width="0.3" style="font-size:26.381px;">78.67</text>
<text transform="matrix(1 0 0 1.1 612.80 1115.37)" text-anchor="end" fill="#000" stroke="#000" stroke-width="0.3" style="font-size:26.381px;">11.3500</text>
<text transform="matrix(1 0 0 1.1 688.00 1115.37)" text-anchor="end" fill="#000" stroke="#000" stroke-width="0.3" style="font-size:26.381px;">12</text>
<text transform="matrix(1 0 0 1.1 767.00 1115.37)" text-anchor="end" fill="#000" stroke="#000" stroke-width="0.3" style="font-size:26.381px;">69.75</text>
<text transform="matrix(1 0 0 1.1 874.00 1115.37)" text-anchor="end" fill="#000" stroke="#000" stroke-width="0.3" style="font-size:26.381px;">9.9000</text>
<text transform="matrix(1 0 0 1.1 1329.50 1115.37)" text-anchor="end" fill="#000" stroke="#000" stroke-width="0.3" style="font-size:26.381px;">0.81</text>
<text transform="matrix(1 0 0 1.1 1485.60 1115.37)" text-anchor="end" fill="#000" stroke="#000" stroke-width="0.3" style="font-size:26.381px;">[-0.03; 1.65]</text>
<text transform="matrix(1 0 0 1.1 1586.00 1115.37)" text-anchor="end" fill="#000" stroke="#000" stroke-width="0.3" style="font-size:26.381px;">7.1%</text>
<text transform="matrix(1 0 0 1.1 75.60 1150.05)" text-anchor="start" fill="#000" stroke="#000" stroke-width="0.3" style="font-size:26.381px;">Jaillard et al., 2020</text>
<text transform="matrix(1 0 0 1.1 426.00 1150.05)" text-anchor="end" fill="#000" stroke="#000" stroke-width="0.3" style="font-size:26.381px;">16</text>
<text transform="matrix(1 0 0 1.1 504.60 1150.05)" text-anchor="end" fill="#000" stroke="#000" stroke-width="0.3" style="font-size:26.381px;">80.63</text>
<text transform="matrix(1 0 0 1.1 612.80 1150.05)" text-anchor="end" fill="#000" stroke="#000" stroke-width="0.3" style="font-size:26.381px;">30.8700</text>
<text transform="matrix(1 0 0 1.1 688.00 1150.05)" text-anchor="end" fill="#000" stroke="#000" stroke-width="0.3" style="font-size:26.381px;">15</text>
<text transform="matrix(1 0 0 1.1 767.00 1150.05)" text-anchor="end" fill="#000" stroke="#000" stroke-width="0.3" style="font-size:26.381px;">77.86</text>
<text transform="matrix(1 0 0 1.1 874.00 1150.05)" text-anchor="end" fill="#000" stroke="#000" stroke-width="0.3" style="font-size:26.381px;">25.4000</text>
<text transform="matrix(1 0 0 1.1 1329.50 1150.05)" text-anchor="end" fill="#000" stroke="#000" stroke-width="0.3" style="font-size:26.381px;">0.10</text>
<text transform="matrix(1 0 0 1.1 1485.60 1150.05)" text-anchor="end" fill="#000" stroke="#000" stroke-width="0.3" style="font-size:26.381px;">[-0.61; 0.80]</text>
<text transform="matrix(1 0 0 1.1 1586.00 1150.05)" text-anchor="end" fill="#000" stroke="#000" stroke-width="0.3" style="font-size:26.381px;">10.1%</text>
<text transform="matrix(1 0 0 1.1 75.60 1184.73)" text-anchor="start" fill="#000" stroke="#000" stroke-width="0.3" style="font-size:26.381px;">Prasad et al., 2014</text>
<text transform="matrix(1 0 0 1.1 426.00 1184.73)" text-anchor="end" fill="#000" stroke="#000" stroke-width="0.3" style="font-size:26.381px;">60</text>
<text transform="matrix(1 0 0 1.1 504.60 1184.73)" text-anchor="end" fill="#000" stroke="#000" stroke-width="0.3" style="font-size:26.381px;">63.10</text>
<text transform="matrix(1 0 0 1.1 612.80 1184.73)" text-anchor="end" fill="#000" stroke="#000" stroke-width="0.3" style="font-size:26.381px;">29.6000</text>
<text transform="matrix(1 0 0 1.1 688.00 1184.73)" text-anchor="end" fill="#000" stroke="#000" stroke-width="0.3" style="font-size:26.381px;">60</text>
<text transform="matrix(1 0 0 1.1 767.00 1184.73)" text-anchor="end" fill="#000" stroke="#000" stroke-width="0.3" style="font-size:26.381px;">63.60</text>
<text transform="matrix(1 0 0 1.1 874.00 1184.73)" text-anchor="end" fill="#000" stroke="#000" stroke-width="0.3" style="font-size:26.381px;">29.6000</text>
<text transform="matrix(1 0 0 1.1 1329.50 1184.73)" text-anchor="end" fill="#000" stroke="#000" stroke-width="0.3" style="font-size:26.381px;">-0.02</text>
<text transform="matrix(1 0 0 1.1 1485.60 1184.73)" text-anchor="end" fill="#000" stroke="#000" stroke-width="0.3" style="font-size:26.381px;">[-0.37; 0.34]</text>
<text transform="matrix(1 0 0 1.1 1586.00 1184.73)" text-anchor="end" fill="#000" stroke="#000" stroke-width="0.3" style="font-size:26.381px;">39.2%</text>
<text transform="matrix(1 0 0 1.1 75.60 1219.41)" text-anchor="start" fill="#999999" stroke="#fff" stroke-width="0.32" style="font-size:26.18px;font-weight:bold;">Common effect model</text>
<text transform="matrix(1 0 0 1.1 426.00 1219.41)" text-anchor="end" fill="#999999" stroke="#fff" stroke-width="0.32" style="font-size:26.18px;font-weight:bold;">88</text>
<text transform="matrix(1 0 0 1.1 688.00 1219.41)" text-anchor="end" fill="#999999" stroke="#fff" stroke-width="0.32" style="font-size:26.18px;font-weight:bold;">87</text>
<text transform="matrix(1 0 0 1.1 1329.50 1219.41)" text-anchor="end" fill="#999999" stroke="#fff" stroke-width="0.32" style="font-size:26.18px;font-weight:bold;">0.11</text>
<text transform="matrix(1 0 0 1.1 1485.60 1219.41)" text-anchor="end" fill="#999999" stroke="#fff" stroke-width="0.32" style="font-size:26.18px;font-weight:bold;">[-0.19; 0.41]</text>
<text transform="matrix(1 0 0 1.1 1586.00 1219.41)" text-anchor="end" fill="#999999" stroke="#fff" stroke-width="0.32" style="font-size:26.18px;font-weight:bold;">56.4%</text>
<text transform="matrix(1 0 0 1.1 75.60 1253.69)" text-anchor="start" fill="#9c9c9c" style="font-size:24.12px;">Heterogeneity: <tspan dx="0.5" style="font-style:italic">I</tspan><tspan dx="3.0" dy="-12.00" style="font-size:16.80px">2</tspan><tspan dx="-1.2" dy="12.00"> = 37%, </tspan><tspan dx="0.4">τ</tspan><tspan dx="2.0" dy="-12.00" style="font-size:16.80px">2</tspan><tspan dx="-1.4" dy="12.00"> = 0.0478, </tspan><tspan dx="1.9" style="font-style:italic">p</tspan><tspan dx="1.5"> = 0.21</tspan></text>
<text transform="matrix(1 0 0 1.1 75.60 1323.44)" text-anchor="start" fill="#999999" stroke="#fff" stroke-width="0.32" style="font-size:26.18px;font-weight:bold;">Route = Non-IV</text>
<text transform="matrix(1 0 0 1.1 75.60 1358.12)" text-anchor="start" fill="#000" stroke="#000" stroke-width="0.3" style="font-size:26.381px;">Jin et al., 2017</text>
<text transform="matrix(1 0 0 1.1 426.00 1358.12)" text-anchor="end" fill="#000" stroke="#000" stroke-width="0.3" style="font-size:26.381px;">10</text>
<text transform="matrix(1 0 0 1.1 504.60 1358.12)" text-anchor="end" fill="#000" stroke="#000" stroke-width="0.3" style="font-size:26.381px;">26.00</text>
<text transform="matrix(1 0 0 1.1 612.80 1358.12)" text-anchor="end" fill="#000" stroke="#000" stroke-width="0.3" style="font-size:26.381px;">16.7990</text>
<text transform="matrix(1 0 0 1.1 688.00 1358.12)" text-anchor="end" fill="#000" stroke="#000" stroke-width="0.3" style="font-size:26.381px;">10</text>
<text transform="matrix(1 0 0 1.1 767.00 1358.12)" text-anchor="end" fill="#000" stroke="#000" stroke-width="0.3" style="font-size:26.381px;">29.00</text>
<text transform="matrix(1 0 0 1.1 874.00 1358.12)" text-anchor="end" fill="#000" stroke="#000" stroke-width="0.3" style="font-size:26.381px;">12.8670</text>
<text transform="matrix(1 0 0 1.1 1329.50 1358.12)" text-anchor="end" fill="#000" stroke="#000" stroke-width="0.3" style="font-size:26.381px;">-0.19</text>
<text transform="matrix(1 0 0 1.1 1485.60 1358.12)" text-anchor="end" fill="#000" stroke="#000" stroke-width="0.3" style="font-size:26.381px;">[-1.07; 0.69]</text>
<text transform="matrix(1 0 0 1.1 1586.00 1358.12)" text-anchor="end" fill="#000" stroke="#000" stroke-width="0.3" style="font-size:26.381px;">6.5%</text>
<text transform="matrix(1 0 0 1.1 75.60 1392.80)" text-anchor="start" fill="#000" stroke="#000" stroke-width="0.3" style="font-size:26.381px;">Li et al., 2013</text>
<text transform="matrix(1 0 0 1.1 426.00 1392.80)" text-anchor="end" fill="#000" stroke="#000" stroke-width="0.3" style="font-size:26.381px;">60</text>
<text transform="matrix(1 0 0 1.1 504.60 1392.80)" text-anchor="end" fill="#000" stroke="#000" stroke-width="0.3" style="font-size:26.381px;">57.39</text>
<text transform="matrix(1 0 0 1.1 612.80 1392.80)" text-anchor="end" fill="#000" stroke="#000" stroke-width="0.3" style="font-size:26.381px;">23.5100</text>
<text transform="matrix(1 0 0 1.1 688.00 1392.80)" text-anchor="end" fill="#000" stroke="#000" stroke-width="0.3" style="font-size:26.381px;">40</text>
<text transform="matrix(1 0 0 1.1 767.00 1392.80)" text-anchor="end" fill="#000" stroke="#000" stroke-width="0.3" style="font-size:26.381px;">46.90</text>
<text transform="matrix(1 0 0 1.1 874.00 1392.80)" text-anchor="end" fill="#000" stroke="#000" stroke-width="0.3" style="font-size:26.381px;">20.2900</text>
<text transform="matrix(1 0 0 1.1 1329.50 1392.80)" text-anchor="end" fill="#000" stroke="#000" stroke-width="0.3" style="font-size:26.381px;">0.47</text>
<text transform="matrix(1 0 0 1.1 1485.60 1392.80)" text-anchor="end" fill="#000" stroke="#000" stroke-width="0.3" style="font-size:26.381px;">[ 0.06; 0.87]</text>
<text transform="matrix(1 0 0 1.1 1586.00 1392.80)" text-anchor="end" fill="#000" stroke="#000" stroke-width="0.3" style="font-size:26.381px;">30.5%</text>
<text transform="matrix(1 0 0 1.1 75.60 1427.48)" text-anchor="start" fill="#000" stroke="#000" stroke-width="0.3" style="font-size:26.381px;">Moniche et al., 2012</text>
<text transform="matrix(1 0 0 1.1 426.00 1427.48)" text-anchor="end" fill="#000" stroke="#000" stroke-width="0.3" style="font-size:26.381px;">10</text>
<text transform="matrix(1 0 0 1.1 504.60 1427.48)" text-anchor="end" fill="#000" stroke="#000" stroke-width="0.3" style="font-size:26.381px;">56.67</text>
<text transform="matrix(1 0 0 1.1 612.80 1427.48)" text-anchor="end" fill="#000" stroke="#000" stroke-width="0.3" style="font-size:26.381px;">38.2400</text>
<text transform="matrix(1 0 0 1.1 688.00 1427.48)" text-anchor="end" fill="#000" stroke="#000" stroke-width="0.3" style="font-size:26.381px;">10</text>
<text transform="matrix(1 0 0 1.1 767.00 1427.48)" text-anchor="end" fill="#000" stroke="#000" stroke-width="0.3" style="font-size:26.381px;">56.50</text>
<text transform="matrix(1 0 0 1.1 874.00 1427.48)" text-anchor="end" fill="#000" stroke="#000" stroke-width="0.3" style="font-size:26.381px;">37.3500</text>
<text transform="matrix(1 0 0 1.1 1329.50 1427.48)" text-anchor="end" fill="#000" stroke="#000" stroke-width="0.3" style="font-size:26.381px;">0.00</text>
<text transform="matrix(1 0 0 1.1 1485.60 1427.48)" text-anchor="end" fill="#000" stroke="#000" stroke-width="0.3" style="font-size:26.381px;">[-0.87; 0.88]</text>
<text transform="matrix(1 0 0 1.1 1586.00 1427.48)" text-anchor="end" fill="#000" stroke="#000" stroke-width="0.3" style="font-size:26.381px;">6.5%</text>
<text transform="matrix(1 0 0 1.1 75.60 1462.15)" text-anchor="start" fill="#999999" stroke="#fff" stroke-width="0.32" style="font-size:26.18px;font-weight:bold;">Common effect model</text>
<text transform="matrix(1 0 0 1.1 426.00 1462.15)" text-anchor="end" fill="#999999" stroke="#fff" stroke-width="0.32" style="font-size:26.18px;font-weight:bold;">80</text>
<text transform="matrix(1 0 0 1.1 688.00 1462.15)" text-anchor="end" fill="#999999" stroke="#fff" stroke-width="0.32" style="font-size:26.18px;font-weight:bold;">60</text>
<text transform="matrix(1 0 0 1.1 1329.50 1462.15)" text-anchor="end" fill="#999999" stroke="#fff" stroke-width="0.32" style="font-size:26.18px;font-weight:bold;">0.30</text>
<text transform="matrix(1 0 0 1.1 1485.60 1462.15)" text-anchor="end" fill="#999999" stroke="#fff" stroke-width="0.32" style="font-size:26.18px;font-weight:bold;">[-0.04; 0.64]</text>
<text transform="matrix(1 0 0 1.1 1586.00 1462.15)" text-anchor="end" fill="#999999" stroke="#fff" stroke-width="0.32" style="font-size:26.18px;font-weight:bold;">43.6%</text>
<text transform="matrix(1 0 0 1.1 75.60 1496.43)" text-anchor="start" fill="#9c9c9c" style="font-size:24.12px;">Heterogeneity: <tspan dx="0.5" style="font-style:italic">I</tspan><tspan dx="3.0" dy="-12.00" style="font-size:16.80px">2</tspan><tspan dx="-1.2" dy="12.00"> = 13%, </tspan><tspan dx="0.4">τ</tspan><tspan dx="2.0" dy="-12.00" style="font-size:16.80px">2</tspan><tspan dx="-1.4" dy="12.00"> = 0.0423, </tspan><tspan dx="1.9" style="font-style:italic">p</tspan><tspan dx="1.5"> = 0.32</tspan></text>
<text transform="matrix(1 0 0 1.1 75.60 1566.19)" text-anchor="start" fill="#000" stroke="#fff" stroke-width="0.15" style="font-size:26.18px;font-weight:bold;">Common effect model</text>
<text transform="matrix(1 0 0 1.1 426.00 1566.19)" text-anchor="end" fill="#000" stroke="#fff" stroke-width="0.15" style="font-size:26.18px;font-weight:bold;">168</text>
<text transform="matrix(1 0 0 1.1 688.00 1566.19)" text-anchor="end" fill="#000" stroke="#fff" stroke-width="0.15" style="font-size:26.18px;font-weight:bold;">147</text>
<text transform="matrix(1 0 0 1.1 1329.50 1566.19)" text-anchor="end" fill="#000" stroke="#fff" stroke-width="0.15" style="font-size:26.18px;font-weight:bold;">0.19</text>
<text transform="matrix(1 0 0 1.1 1485.60 1566.19)" text-anchor="end" fill="#000" stroke="#fff" stroke-width="0.15" style="font-size:26.18px;font-weight:bold;">[-0.03; 0.42]</text>
<text transform="matrix(1 0 0 1.1 1586.00 1566.19)" text-anchor="end" fill="#000" stroke="#fff" stroke-width="0.15" style="font-size:26.18px;font-weight:bold;">100.0%</text>
<text transform="matrix(1 0 0 1.1 75.60 1600.47)" text-anchor="start" fill="#000" stroke="#000" stroke-width="0.3" style="font-size:24.12px;">Heterogeneity: <tspan dx="0.5" style="font-style:italic">I</tspan><tspan dx="3.0" dy="-12.00" style="font-size:16.80px">2</tspan><tspan dx="-1.2" dy="12.00"> = 19%, </tspan><tspan dx="0.4">τ</tspan><tspan dx="2.0" dy="-12.00" style="font-size:16.80px">2</tspan><tspan dx="-1.4" dy="12.00"> = 0.0283, </tspan><tspan dx="1.9" style="font-style:italic">p</tspan><tspan dx="1.5"> = 0.29</tspan></text>
<text transform="matrix(1 0 0 1.1 75.60 1633.74)" text-anchor="start" fill="#000" stroke="#000" stroke-width="0.3" style="font-size:24.321px;">Test for subgroup differences: <tspan dx="0">χ</tspan><tspan dx="2.2" dy="-9.68" style="font-size:16.94px">2</tspan><tspan dx="-10.22" dy="16.94" style="font-size:16.94px">1</tspan><tspan dx="-1.0" dy="-7.26"> = 0.69, df = 1 (</tspan><tspan style="font-style:italic">p</tspan><tspan dx="2.6"> = 0.41)</tspan></text>
<text transform="matrix(1 0 0 1.0 17.60 1769.80)" text-anchor="start" fill="#000" style="font-size:48.5px;">C</text>
<text transform="matrix(1 0 0 1.1 612.80 1802.22)" text-anchor="end" fill="#000" stroke="#fff" stroke-width="0.15" style="font-size:26.18px;font-weight:bold;">Intervention</text>
<text transform="matrix(1 0 0 1.1 874.00 1802.22)" text-anchor="end" fill="#000" stroke="#fff" stroke-width="0.15" style="font-size:26.18px;font-weight:bold;">Control</text>
<text transform="matrix(1 0 0 1.1 75.60 1836.83)" text-anchor="start" fill="#000" stroke="#fff" stroke-width="0.15" style="font-size:26.18px;font-weight:bold;">Study</text>
<text transform="matrix(1 0 0 1.1 426.00 1836.83)" text-anchor="end" fill="#000" stroke="#fff" stroke-width="0.15" style="font-size:26.18px;font-weight:bold;">Total</text>
<text transform="matrix(1 0 0 1.1 688.00 1836.83)" text-anchor="end" fill="#000" stroke="#fff" stroke-width="0.15" style="font-size:26.18px;font-weight:bold;">Total</text>
<text transform="matrix(1 0 0 1.1 504.60 1836.83)" text-anchor="end" fill="#000" stroke="#fff" stroke-width="0.15" style="font-size:26.18px;font-weight:bold;">Mean</text>
<text transform="matrix(1 0 0 1.1 767.00 1836.83)" text-anchor="end" fill="#000" stroke="#fff" stroke-width="0.15" style="font-size:26.18px;font-weight:bold;">Mean</text>
<text transform="matrix(1 0 0 1.1 612.80 1836.83)" text-anchor="end" fill="#000" stroke="#fff" stroke-width="0.15" style="font-size:26.18px;font-weight:bold;">SD</text>
<text transform="matrix(1 0 0 1.1 874.00 1836.83)" text-anchor="end" fill="#000" stroke="#fff" stroke-width="0.15" style="font-size:26.18px;font-weight:bold;">SD</text>
<text transform="matrix(1 0 0 1.1 1072.40 1836.83)" text-anchor="middle" fill="#000" stroke="#fff" stroke-width="0.15" style="font-size:26.18px;font-weight:bold;">BI</text>
<text transform="matrix(1 0 0 1.1 1329.50 1836.83)" text-anchor="end" fill="#000" stroke="#fff" stroke-width="0.15" style="font-size:26.18px;font-weight:bold;">SMD</text>
<text transform="matrix(1 0 0 1.1 1485.60 1836.83)" text-anchor="end" fill="#000" stroke="#fff" stroke-width="0.15" style="font-size:26.18px;font-weight:bold;">95%-CI</text>
<text transform="matrix(1 0 0 1.1 1586.00 1836.83)" text-anchor="end" fill="#000" stroke="#fff" stroke-width="0.15" style="font-size:26.18px;font-weight:bold;">Weight</text>
<text transform="matrix(1 0 0 1.1 932.25 2494.60)" text-anchor="middle" fill="#000" stroke="#000" stroke-width="0.3" style="font-size:26.381px;">-2</text>
<text transform="matrix(1 0 0 1.1 1002.25 2494.60)" text-anchor="middle" fill="#000" stroke="#000" stroke-width="0.3" style="font-size:26.381px;">-1</text>
<text transform="matrix(1 0 0 1.1 1072.25 2494.60)" text-anchor="middle" fill="#000" stroke="#000" stroke-width="0.3" style="font-size:26.381px;">0</text>
<text transform="matrix(1 0 0 1.1 1142.25 2494.60)" text-anchor="middle" fill="#000" stroke="#000" stroke-width="0.3" style="font-size:26.381px;">1</text>
<text transform="matrix(1 0 0 1.1 1212.25 2494.60)" text-anchor="middle" fill="#000" stroke="#000" stroke-width="0.3" style="font-size:26.381px;">2</text>
<line x1="1092.55" y1="1878.94" x2="1092.55" y2="2414.37" stroke="#000" stroke-width="1.7" stroke-dasharray="8.7 5.14" stroke-dashoffset="11.59"/>
<line x1="1072.25" y1="1877.94" x2="1072.25" y2="2449.25" stroke="#000" stroke-width="2.55"/>
<rect x="1123.56" y="1923.75" width="10.79" height="12.20" fill="#c2c2c2"/>
<rect x="1126.10" y="1959.65" width="8.50" height="9.62" fill="#c2c2c2"/>
<rect x="1057.45" y="1991.83" width="12.81" height="14.49" fill="#c2c2c2"/>
<rect x="1058.23" y="2019.41" width="25.23" height="28.54" fill="#c2c2c2"/>
<rect x="1075.60" y="2198.63" width="14.30" height="16.18" fill="#c2c2c2"/>
<rect x="1180.60" y="2236.40" width="8.71" height="9.85" fill="#c2c2c2"/>
<rect x="1094.02" y="2263.34" width="22.26" height="25.18" fill="#c2c2c2"/>
<line x1="1070.15" y1="1929.85" x2="1187.75" y2="1929.85" stroke="#000" stroke-width="1.8"/>
<line x1="1128.95" y1="1925.85" x2="1128.95" y2="1933.85" stroke="#000" stroke-width="2.2"/>
<line x1="1055.45" y1="1964.46" x2="1204.55" y2="1964.46" stroke="#000" stroke-width="1.8"/>
<line x1="1130.35" y1="1960.46" x2="1130.35" y2="1968.46" stroke="#000" stroke-width="2.2"/>
<line x1="1014.85" y1="1999.07" x2="1113.55" y2="1999.07" stroke="#000" stroke-width="1.8"/>
<line x1="1063.85" y1="1995.07" x2="1063.85" y2="2003.07" stroke="#000" stroke-width="2.2"/>
<line x1="1046.35" y1="2033.68" x2="1096.05" y2="2033.68" stroke="#000" stroke-width="1.8"/>
<line x1="1070.85" y1="2029.68" x2="1070.85" y2="2037.68" stroke="#000" stroke-width="2.2"/>
<polygon points="1061.65,2068.29 1081.00,2060.39 1100.35,2068.29 1081.00,2076.19" fill="#c2c2c2" stroke="#000" stroke-width="2.0" stroke-linejoin="round"/>
<line x1="1038.65" y1="2206.72" x2="1126.85" y2="2206.72" stroke="#000" stroke-width="1.8"/>
<line x1="1082.75" y1="2202.72" x2="1082.75" y2="2210.72" stroke="#000" stroke-width="2.2"/>
<line x1="1112.15" y1="2241.33" x2="1257.05" y2="2241.33" stroke="#000" stroke-width="1.8"/>
<line x1="1184.95" y1="2237.33" x2="1184.95" y2="2245.33" stroke="#000" stroke-width="2.2"/>
<line x1="1076.45" y1="2275.93" x2="1133.15" y2="2275.93" stroke="#000" stroke-width="1.8"/>
<line x1="1105.15" y1="2271.93" x2="1105.15" y2="2279.93" stroke="#000" stroke-width="2.2"/>
<polygon points="1084.75,2310.54 1106.90,2302.64 1129.05,2310.54 1106.90,2318.44" fill="#c2c2c2" stroke="#000" stroke-width="2.0" stroke-linejoin="round"/>
<polygon points="1077.75,2414.37 1092.20,2406.47 1106.65,2414.37 1092.20,2422.27" fill="#c2c2c2" stroke="#000" stroke-width="2.0" stroke-linejoin="round"/>
<line x1="932.25" y1="2431.85" x2="1212.25" y2="2431.85" stroke="#000" stroke-width="2.6" stroke-linecap="round"/>
<line x1="932.25" y1="2431.85" x2="932.25" y2="2449.25" stroke="#000" stroke-width="2.2" stroke-linecap="round"/>
<line x1="1002.25" y1="2431.85" x2="1002.25" y2="2449.25" stroke="#000" stroke-width="2.2" stroke-linecap="round"/>
<line x1="1072.25" y1="2431.85" x2="1072.25" y2="2449.25" stroke="#000" stroke-width="2.2" stroke-linecap="round"/>
<line x1="1142.25" y1="2431.85" x2="1142.25" y2="2449.25" stroke="#000" stroke-width="2.2" stroke-linecap="round"/>
<line x1="1212.25" y1="2431.85" x2="1212.25" y2="2449.25" stroke="#000" stroke-width="2.2" stroke-linecap="round"/>
<text transform="matrix(1 0 0 1.1 75.60 1906.05)" text-anchor="start" fill="#999999" stroke="#fff" stroke-width="0.32" style="font-size:26.18px;font-weight:bold;">Route = IV</text>
<text transform="matrix(1 0 0 1.1 75.60 1940.65)" text-anchor="start" fill="#000" stroke="#000" stroke-width="0.3" style="font-size:26.381px;">Bhasin et al., 2012</text>
<text transform="matrix(1 0 0 1.1 426.00 1940.65)" text-anchor="end" fill="#000" stroke="#000" stroke-width="0.3" style="font-size:26.381px;">12</text>
<text transform="matrix(1 0 0 1.1 504.60 1940.65)" text-anchor="end" fill="#000" stroke="#000" stroke-width="0.3" style="font-size:26.381px;">78.67</text>
<text transform="matrix(1 0 0 1.1 612.80 1940.65)" text-anchor="end" fill="#000" stroke="#000" stroke-width="0.3" style="font-size:26.381px;">11.3500</text>
<text transform="matrix(1 0 0 1.1 688.00 1940.65)" text-anchor="end" fill="#000" stroke="#000" stroke-width="0.3" style="font-size:26.381px;">12</text>
<text transform="matrix(1 0 0 1.1 767.00 1940.65)" text-anchor="end" fill="#000" stroke="#000" stroke-width="0.3" style="font-size:26.381px;">69.75</text>
<text transform="matrix(1 0 0 1.1 874.00 1940.65)" text-anchor="end" fill="#000" stroke="#000" stroke-width="0.3" style="font-size:26.381px;">9.9000</text>
<text transform="matrix(1 0 0 1.1 1329.50 1940.65)" text-anchor="end" fill="#000" stroke="#000" stroke-width="0.3" style="font-size:26.381px;">0.81</text>
<text transform="matrix(1 0 0 1.1 1485.60 1940.65)" text-anchor="end" fill="#000" stroke="#000" stroke-width="0.3" style="font-size:26.381px;">[-0.03; 1.65]</text>
<text transform="matrix(1 0 0 1.1 1586.00 1940.65)" text-anchor="end" fill="#000" stroke="#000" stroke-width="0.3" style="font-size:26.381px;">6.6%</text>
<text transform="matrix(1 0 0 1.1 75.60 1975.26)" text-anchor="start" fill="#000" stroke="#000" stroke-width="0.3" style="font-size:26.381px;">Fang et al., 2019</text>
<text transform="matrix(1 0 0 1.1 426.00 1975.26)" text-anchor="end" fill="#000" stroke="#000" stroke-width="0.3" style="font-size:26.381px;">10</text>
<text transform="matrix(1 0 0 1.1 504.60 1975.26)" text-anchor="end" fill="#000" stroke="#000" stroke-width="0.3" style="font-size:26.381px;">88.90</text>
<text transform="matrix(1 0 0 1.1 612.80 1975.26)" text-anchor="end" fill="#000" stroke="#000" stroke-width="0.3" style="font-size:26.381px;">2.6000</text>
<text transform="matrix(1 0 0 1.1 688.00 1975.26)" text-anchor="end" fill="#000" stroke="#000" stroke-width="0.3" style="font-size:26.381px;">6</text>
<text transform="matrix(1 0 0 1.1 767.00 1975.26)" text-anchor="end" fill="#000" stroke="#000" stroke-width="0.3" style="font-size:26.381px;">70.00</text>
<text transform="matrix(1 0 0 1.1 874.00 1975.26)" text-anchor="end" fill="#000" stroke="#000" stroke-width="0.3" style="font-size:26.381px;">36.0000</text>
<text transform="matrix(1 0 0 1.1 1329.50 1975.26)" text-anchor="end" fill="#000" stroke="#000" stroke-width="0.3" style="font-size:26.381px;">0.83</text>
<text transform="matrix(1 0 0 1.1 1485.60 1975.26)" text-anchor="end" fill="#000" stroke="#000" stroke-width="0.3" style="font-size:26.381px;">[-0.24; 1.89]</text>
<text transform="matrix(1 0 0 1.1 1586.00 1975.26)" text-anchor="end" fill="#000" stroke="#000" stroke-width="0.3" style="font-size:26.381px;">4.1%</text>
<text transform="matrix(1 0 0 1.1 75.60 2009.87)" text-anchor="start" fill="#000" stroke="#000" stroke-width="0.3" style="font-size:26.381px;">Jaillard et al., 2020</text>
<text transform="matrix(1 0 0 1.1 426.00 2009.87)" text-anchor="end" fill="#000" stroke="#000" stroke-width="0.3" style="font-size:26.381px;">16</text>
<text transform="matrix(1 0 0 1.1 504.60 2009.87)" text-anchor="end" fill="#000" stroke="#000" stroke-width="0.3" style="font-size:26.381px;">82.00</text>
<text transform="matrix(1 0 0 1.1 612.80 2009.87)" text-anchor="end" fill="#000" stroke="#000" stroke-width="0.3" style="font-size:26.381px;">27.8300</text>
<text transform="matrix(1 0 0 1.1 688.00 2009.87)" text-anchor="end" fill="#000" stroke="#000" stroke-width="0.3" style="font-size:26.381px;">15</text>
<text transform="matrix(1 0 0 1.1 767.00 2009.87)" text-anchor="end" fill="#000" stroke="#000" stroke-width="0.3" style="font-size:26.381px;">85.00</text>
<text transform="matrix(1 0 0 1.1 874.00 2009.87)" text-anchor="end" fill="#000" stroke="#000" stroke-width="0.3" style="font-size:26.381px;">20.4800</text>
<text transform="matrix(1 0 0 1.1 1329.50 2009.87)" text-anchor="end" fill="#000" stroke="#000" stroke-width="0.3" style="font-size:26.381px;">-0.12</text>
<text transform="matrix(1 0 0 1.1 1485.60 2009.87)" text-anchor="end" fill="#000" stroke="#000" stroke-width="0.3" style="font-size:26.381px;">[-0.82; 0.59]</text>
<text transform="matrix(1 0 0 1.1 1586.00 2009.87)" text-anchor="end" fill="#000" stroke="#000" stroke-width="0.3" style="font-size:26.381px;">9.3%</text>
<text transform="matrix(1 0 0 1.1 75.60 2044.48)" text-anchor="start" fill="#000" stroke="#000" stroke-width="0.3" style="font-size:26.381px;">Prasad et al., 2014</text>
<text transform="matrix(1 0 0 1.1 426.00 2044.48)" text-anchor="end" fill="#000" stroke="#000" stroke-width="0.3" style="font-size:26.381px;">60</text>
<text transform="matrix(1 0 0 1.1 504.60 2044.48)" text-anchor="end" fill="#000" stroke="#000" stroke-width="0.3" style="font-size:26.381px;">63.10</text>
<text transform="matrix(1 0 0 1.1 612.80 2044.48)" text-anchor="end" fill="#000" stroke="#000" stroke-width="0.3" style="font-size:26.381px;">29.6000</text>
<text transform="matrix(1 0 0 1.1 688.00 2044.48)" text-anchor="end" fill="#000" stroke="#000" stroke-width="0.3" style="font-size:26.381px;">60</text>
<text transform="matrix(1 0 0 1.1 767.00 2044.48)" text-anchor="end" fill="#000" stroke="#000" stroke-width="0.3" style="font-size:26.381px;">63.60</text>
<text transform="matrix(1 0 0 1.1 874.00 2044.48)" text-anchor="end" fill="#000" stroke="#000" stroke-width="0.3" style="font-size:26.381px;">29.6000</text>
<text transform="matrix(1 0 0 1.1 1329.50 2044.48)" text-anchor="end" fill="#000" stroke="#000" stroke-width="0.3" style="font-size:26.381px;">-0.02</text>
<text transform="matrix(1 0 0 1.1 1485.60 2044.48)" text-anchor="end" fill="#000" stroke="#000" stroke-width="0.3" style="font-size:26.381px;">[-0.37; 0.34]</text>
<text transform="matrix(1 0 0 1.1 1586.00 2044.48)" text-anchor="end" fill="#000" stroke="#000" stroke-width="0.3" style="font-size:26.381px;">36.1%</text>
<text transform="matrix(1 0 0 1.1 75.60 2079.09)" text-anchor="start" fill="#999999" stroke="#fff" stroke-width="0.32" style="font-size:26.18px;font-weight:bold;">Common effect model</text>
<text transform="matrix(1 0 0 1.1 426.00 2079.09)" text-anchor="end" fill="#999999" stroke="#fff" stroke-width="0.32" style="font-size:26.18px;font-weight:bold;">98</text>
<text transform="matrix(1 0 0 1.1 688.00 2079.09)" text-anchor="end" fill="#999999" stroke="#fff" stroke-width="0.32" style="font-size:26.18px;font-weight:bold;">93</text>
<text transform="matrix(1 0 0 1.1 1329.50 2079.09)" text-anchor="end" fill="#999999" stroke="#fff" stroke-width="0.32" style="font-size:26.18px;font-weight:bold;">0.12</text>
<text transform="matrix(1 0 0 1.1 1485.60 2079.09)" text-anchor="end" fill="#999999" stroke="#fff" stroke-width="0.32" style="font-size:26.18px;font-weight:bold;">[-0.16; 0.41]</text>
<text transform="matrix(1 0 0 1.1 1586.00 2079.09)" text-anchor="end" fill="#999999" stroke="#fff" stroke-width="0.32" style="font-size:26.18px;font-weight:bold;">56.0%</text>
<text transform="matrix(1 0 0 1.1 75.60 2114.69)" text-anchor="start" fill="#9c9c9c" style="font-size:24.12px;">Heterogeneity: <tspan dx="0.5" style="font-style:italic">I</tspan><tspan dx="3.0" dy="-12.00" style="font-size:16.80px">2</tspan><tspan dx="-1.2" dy="12.00"> = 43%, </tspan><tspan dx="0.4">τ</tspan><tspan dx="2.0" dy="-12.00" style="font-size:16.80px">2</tspan><tspan dx="-1.4" dy="12.00"> = 0.0947, </tspan><tspan dx="1.9" style="font-style:italic">p</tspan><tspan dx="1.5"> = 0.15</tspan></text>
<text transform="matrix(1 0 0 1.1 75.60 2182.91)" text-anchor="start" fill="#999999" stroke="#fff" stroke-width="0.32" style="font-size:26.18px;font-weight:bold;">Route = Non-IV</text>
<text transform="matrix(1 0 0 1.1 75.60 2217.52)" text-anchor="start" fill="#000" stroke="#000" stroke-width="0.3" style="font-size:26.381px;">Ghali et al., 2016</text>
<text transform="matrix(1 0 0 1.1 426.00 2217.52)" text-anchor="end" fill="#000" stroke="#000" stroke-width="0.3" style="font-size:26.381px;">21</text>
<text transform="matrix(1 0 0 1.1 504.60 2217.52)" text-anchor="end" fill="#000" stroke="#000" stroke-width="0.3" style="font-size:26.381px;">63.30</text>
<text transform="matrix(1 0 0 1.1 612.80 2217.52)" text-anchor="end" fill="#000" stroke="#000" stroke-width="0.3" style="font-size:26.381px;">25.2300</text>
<text transform="matrix(1 0 0 1.1 688.00 2217.52)" text-anchor="end" fill="#000" stroke="#000" stroke-width="0.3" style="font-size:26.381px;">18</text>
<text transform="matrix(1 0 0 1.1 767.00 2217.52)" text-anchor="end" fill="#000" stroke="#000" stroke-width="0.3" style="font-size:26.381px;">59.50</text>
<text transform="matrix(1 0 0 1.1 874.00 2217.52)" text-anchor="end" fill="#000" stroke="#000" stroke-width="0.3" style="font-size:26.381px;">26.0000</text>
<text transform="matrix(1 0 0 1.1 1329.50 2217.52)" text-anchor="end" fill="#000" stroke="#000" stroke-width="0.3" style="font-size:26.381px;">0.15</text>
<text transform="matrix(1 0 0 1.1 1485.60 2217.52)" text-anchor="end" fill="#000" stroke="#000" stroke-width="0.3" style="font-size:26.381px;">[-0.48; 0.78]</text>
<text transform="matrix(1 0 0 1.1 1586.00 2217.52)" text-anchor="end" fill="#000" stroke="#000" stroke-width="0.3" style="font-size:26.381px;">11.6%</text>
<text transform="matrix(1 0 0 1.1 75.60 2252.13)" text-anchor="start" fill="#000" stroke="#000" stroke-width="0.3" style="font-size:26.381px;">Jin et al., 2017</text>
<text transform="matrix(1 0 0 1.1 426.00 2252.13)" text-anchor="end" fill="#000" stroke="#000" stroke-width="0.3" style="font-size:26.381px;">10</text>
<text transform="matrix(1 0 0 1.1 504.60 2252.13)" text-anchor="end" fill="#000" stroke="#000" stroke-width="0.3" style="font-size:26.381px;">87.50</text>
<text transform="matrix(1 0 0 1.1 612.80 2252.13)" text-anchor="end" fill="#000" stroke="#000" stroke-width="0.3" style="font-size:26.381px;">7.5800</text>
<text transform="matrix(1 0 0 1.1 688.00 2252.13)" text-anchor="end" fill="#000" stroke="#000" stroke-width="0.3" style="font-size:26.381px;">10</text>
<text transform="matrix(1 0 0 1.1 767.00 2252.13)" text-anchor="end" fill="#000" stroke="#000" stroke-width="0.3" style="font-size:26.381px;">63.33</text>
<text transform="matrix(1 0 0 1.1 874.00 2252.13)" text-anchor="end" fill="#000" stroke="#000" stroke-width="0.3" style="font-size:26.381px;">18.8860</text>
<text transform="matrix(1 0 0 1.1 1329.50 2252.13)" text-anchor="end" fill="#000" stroke="#000" stroke-width="0.3" style="font-size:26.381px;">1.61</text>
<text transform="matrix(1 0 0 1.1 1485.60 2252.13)" text-anchor="end" fill="#000" stroke="#000" stroke-width="0.3" style="font-size:26.381px;">[ 0.57; 2.64]</text>
<text transform="matrix(1 0 0 1.1 1586.00 2252.13)" text-anchor="end" fill="#000" stroke="#000" stroke-width="0.3" style="font-size:26.381px;">4.3%</text>
<text transform="matrix(1 0 0 1.1 75.60 2286.73)" text-anchor="start" fill="#000" stroke="#000" stroke-width="0.3" style="font-size:26.381px;">Li et al., 2013</text>
<text transform="matrix(1 0 0 1.1 426.00 2286.73)" text-anchor="end" fill="#000" stroke="#000" stroke-width="0.3" style="font-size:26.381px;">60</text>
<text transform="matrix(1 0 0 1.1 504.60 2286.73)" text-anchor="end" fill="#000" stroke="#000" stroke-width="0.3" style="font-size:26.381px;">57.39</text>
<text transform="matrix(1 0 0 1.1 612.80 2286.73)" text-anchor="end" fill="#000" stroke="#000" stroke-width="0.3" style="font-size:26.381px;">23.5100</text>
<text transform="matrix(1 0 0 1.1 688.00 2286.73)" text-anchor="end" fill="#000" stroke="#000" stroke-width="0.3" style="font-size:26.381px;">40</text>
<text transform="matrix(1 0 0 1.1 767.00 2286.73)" text-anchor="end" fill="#000" stroke="#000" stroke-width="0.3" style="font-size:26.381px;">46.90</text>
<text transform="matrix(1 0 0 1.1 874.00 2286.73)" text-anchor="end" fill="#000" stroke="#000" stroke-width="0.3" style="font-size:26.381px;">20.2900</text>
<text transform="matrix(1 0 0 1.1 1329.50 2286.73)" text-anchor="end" fill="#000" stroke="#000" stroke-width="0.3" style="font-size:26.381px;">0.47</text>
<text transform="matrix(1 0 0 1.1 1485.60 2286.73)" text-anchor="end" fill="#000" stroke="#000" stroke-width="0.3" style="font-size:26.381px;">[ 0.06; 0.87]</text>
<text transform="matrix(1 0 0 1.1 1586.00 2286.73)" text-anchor="end" fill="#000" stroke="#000" stroke-width="0.3" style="font-size:26.381px;">28.1%</text>
<text transform="matrix(1 0 0 1.1 75.60 2321.34)" text-anchor="start" fill="#999999" stroke="#fff" stroke-width="0.32" style="font-size:26.18px;font-weight:bold;">Common effect model</text>
<text transform="matrix(1 0 0 1.1 426.00 2321.34)" text-anchor="end" fill="#999999" stroke="#fff" stroke-width="0.32" style="font-size:26.18px;font-weight:bold;">91</text>
<text transform="matrix(1 0 0 1.1 688.00 2321.34)" text-anchor="end" fill="#999999" stroke="#fff" stroke-width="0.32" style="font-size:26.18px;font-weight:bold;">68</text>
<text transform="matrix(1 0 0 1.1 1329.50 2321.34)" text-anchor="end" fill="#999999" stroke="#fff" stroke-width="0.32" style="font-size:26.18px;font-weight:bold;">0.49</text>
<text transform="matrix(1 0 0 1.1 1485.60 2321.34)" text-anchor="end" fill="#999999" stroke="#fff" stroke-width="0.32" style="font-size:26.18px;font-weight:bold;">[ 0.17; 0.82]</text>
<text transform="matrix(1 0 0 1.1 1586.00 2321.34)" text-anchor="end" fill="#999999" stroke="#fff" stroke-width="0.32" style="font-size:26.18px;font-weight:bold;">44.0%</text>
<text transform="matrix(1 0 0 1.1 75.60 2356.95)" text-anchor="start" fill="#9c9c9c" style="font-size:24.12px;">Heterogeneity: <tspan dx="0.5" style="font-style:italic">I</tspan><tspan dx="3.0" dy="-12.00" style="font-size:16.80px">2</tspan><tspan dx="-1.2" dy="12.00"> = 65%, </tspan><tspan dx="0.4">τ</tspan><tspan dx="2.0" dy="-12.00" style="font-size:16.80px">2</tspan><tspan dx="-1.4" dy="12.00"> = 0.2829, </tspan><tspan dx="1.9" style="font-style:italic">p</tspan><tspan dx="1.5"> = 0.06</tspan></text>
<text transform="matrix(1 0 0 1.1 75.60 2425.17)" text-anchor="start" fill="#000" stroke="#fff" stroke-width="0.15" style="font-size:26.18px;font-weight:bold;">Common effect model</text>
<text transform="matrix(1 0 0 1.1 426.00 2425.17)" text-anchor="end" fill="#000" stroke="#fff" stroke-width="0.15" style="font-size:26.18px;font-weight:bold;">189</text>
<text transform="matrix(1 0 0 1.1 688.00 2425.17)" text-anchor="end" fill="#000" stroke="#fff" stroke-width="0.15" style="font-size:26.18px;font-weight:bold;">161</text>
<text transform="matrix(1 0 0 1.1 1329.50 2425.17)" text-anchor="end" fill="#000" stroke="#fff" stroke-width="0.15" style="font-size:26.18px;font-weight:bold;">0.29</text>
<text transform="matrix(1 0 0 1.1 1485.60 2425.17)" text-anchor="end" fill="#000" stroke="#fff" stroke-width="0.15" style="font-size:26.18px;font-weight:bold;">[ 0.07; 0.50]</text>
<text transform="matrix(1 0 0 1.1 1586.00 2425.17)" text-anchor="end" fill="#000" stroke="#fff" stroke-width="0.15" style="font-size:26.18px;font-weight:bold;">100.0%</text>
<text transform="matrix(1 0 0 1.1 75.60 2460.77)" text-anchor="start" fill="#000" stroke="#000" stroke-width="0.3" style="font-size:24.12px;">Heterogeneity: <tspan dx="0.5" style="font-style:italic">I</tspan><tspan dx="3.0" dy="-12.00" style="font-size:16.80px">2</tspan><tspan dx="-1.2" dy="12.00"> = 56%, </tspan><tspan dx="0.4">τ</tspan><tspan dx="2.0" dy="-12.00" style="font-size:16.80px">2</tspan><tspan dx="-1.4" dy="12.00"> = 0.1262, </tspan><tspan dx="1.9" style="font-style:italic">p</tspan><tspan dx="1.5"> = 0.03</tspan></text>
<text transform="matrix(1 0 0 1.1 75.60 2493.08)" text-anchor="start" fill="#000" stroke="#000" stroke-width="0.3" style="font-size:24.321px;">Test for subgroup differences: <tspan dx="0">χ</tspan><tspan dx="2.2" dy="-9.68" style="font-size:16.94px">2</tspan><tspan dx="-10.22" dy="16.94" style="font-size:16.94px">1</tspan><tspan dx="-1.0" dy="-7.26"> = 2.79, df = 1 (</tspan><tspan style="font-style:italic">p</tspan><tspan dx="2.6"> = 0.09)</tspan></text>
</svg>
</body></html>
